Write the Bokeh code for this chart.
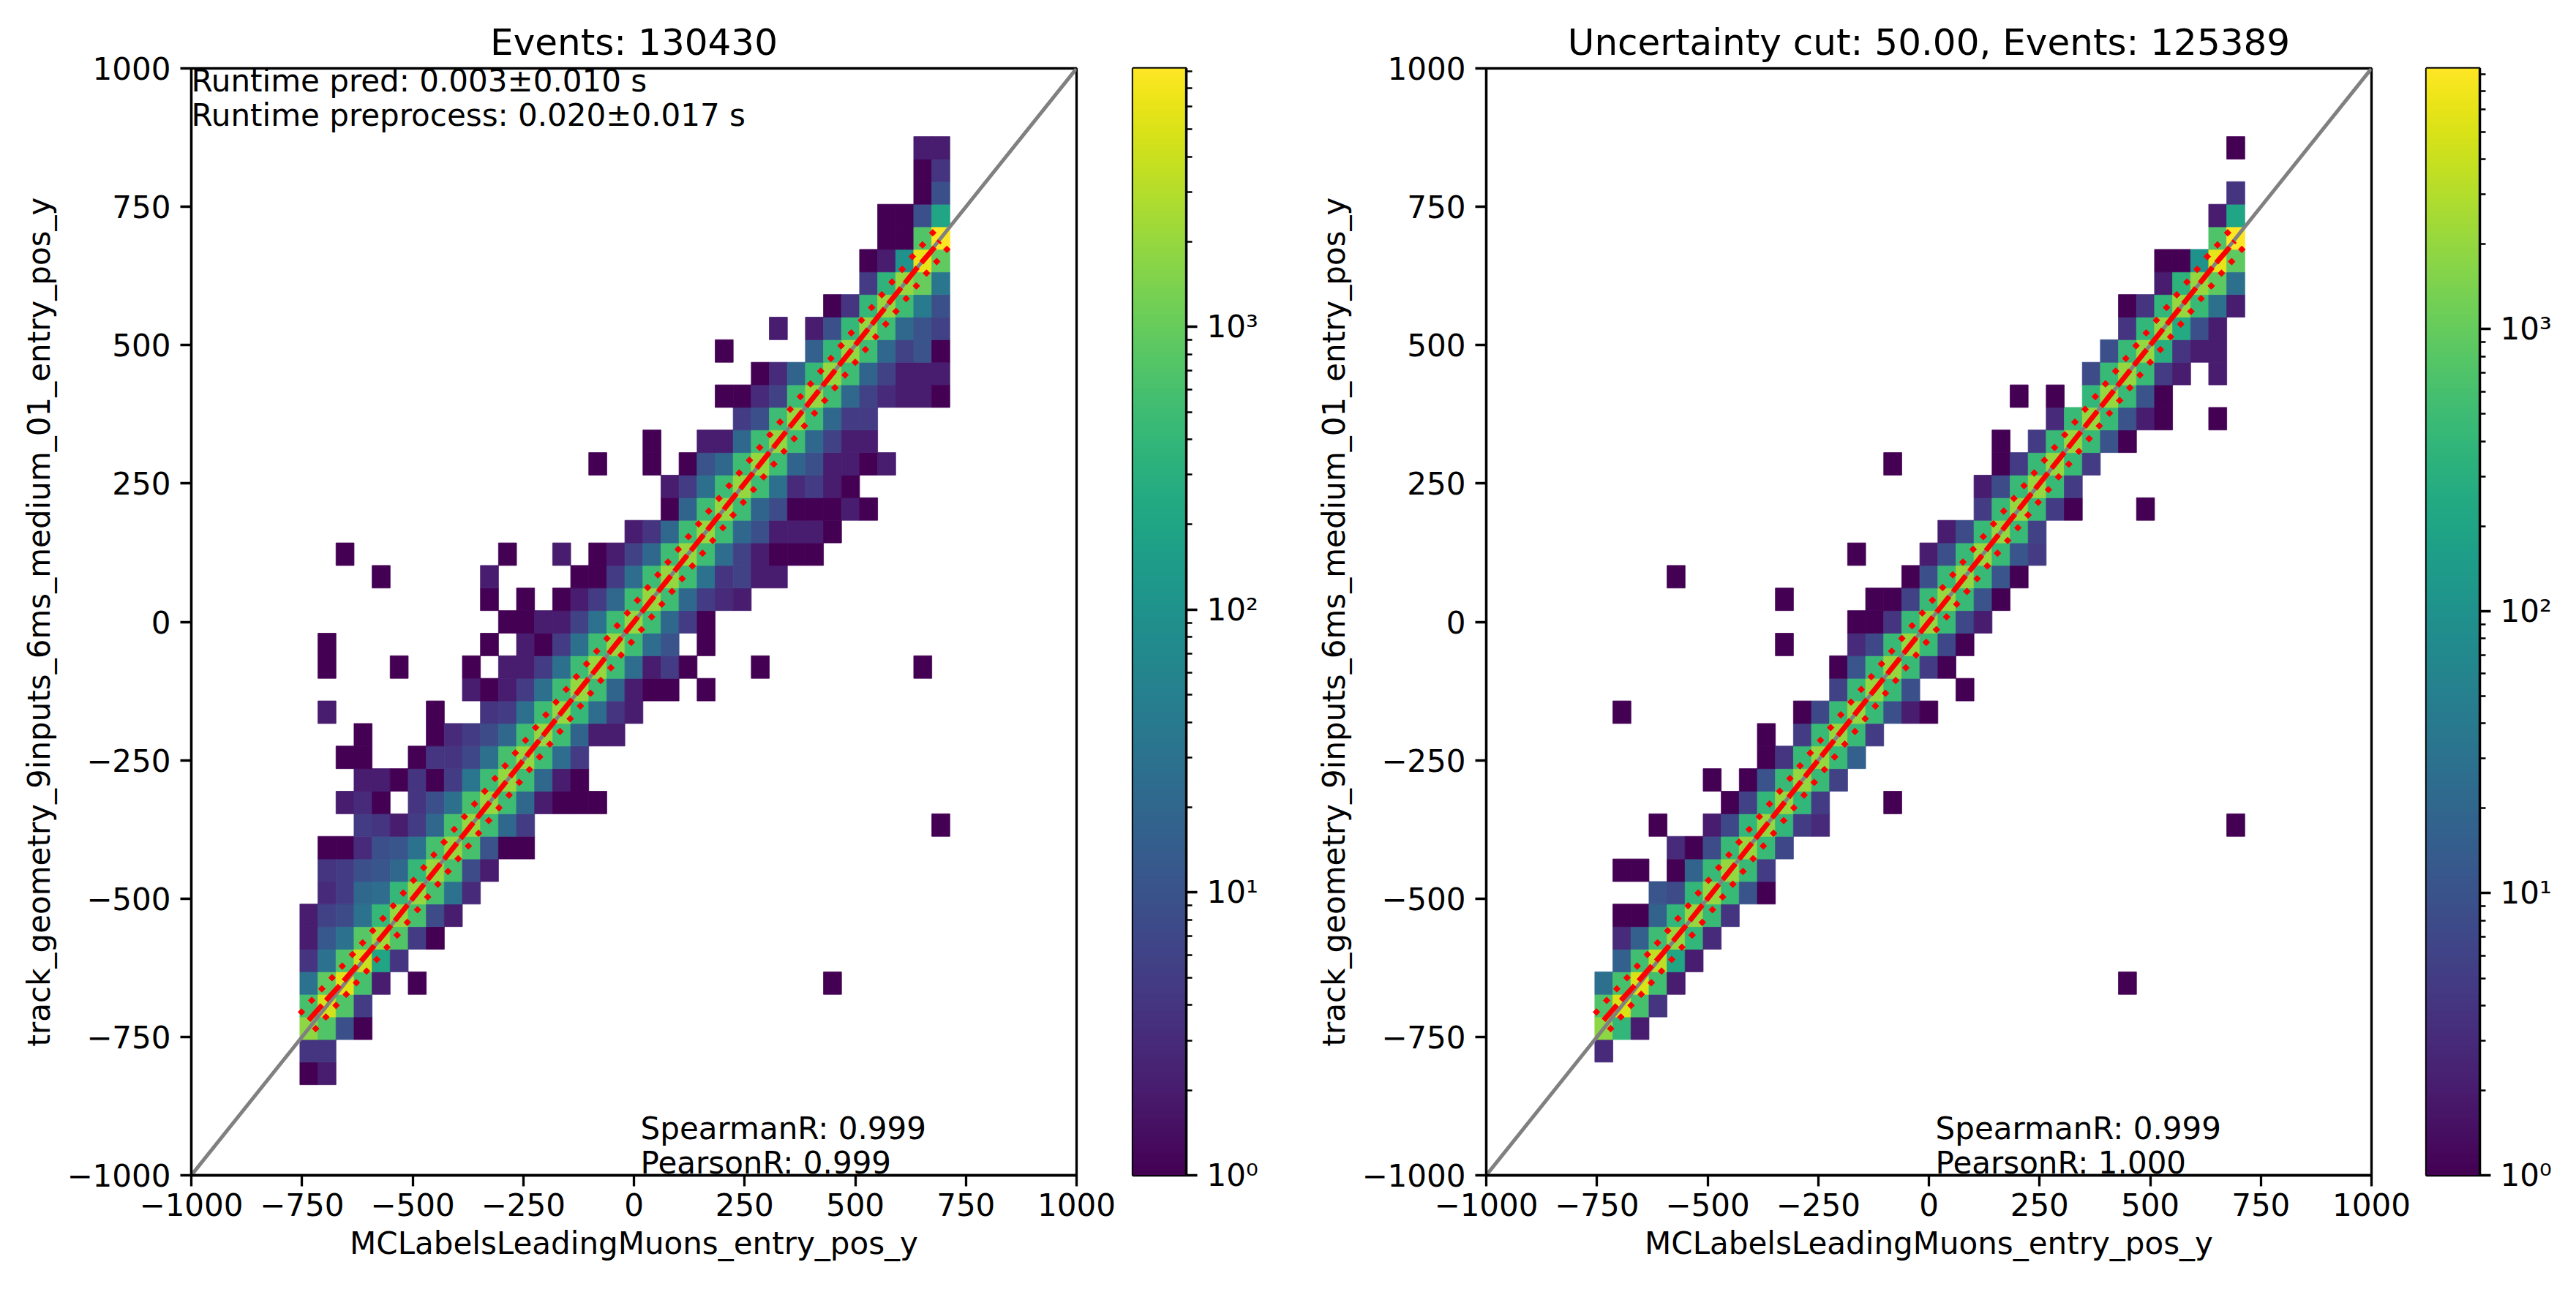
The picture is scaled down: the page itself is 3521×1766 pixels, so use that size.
import numpy as np
from bokeh.plotting import figure
from bokeh.models import ColumnDataSource, Range1d, FixedTicker, Label, LinearColorMapper
from bokeh.transform import log_cmap
from bokeh.palettes import Viridis256
from bokeh.layouts import row
from bokeh.embed import file_html
from bokeh.resources import INLINE

FONT = "DejaVu Sans"

# ---------------- data ----------------
# shared 2D-histogram binning (same edges on both axes)
bin_lo, bin_hi, n_bins = -836.3, 876.9, 42

# (row index, first column index, counts along the row)
left_rows = [
    (0, 2, [1, 2]),
    (1, 2, [4, 4]),
    (2, 2, [1800, 700, 9, 1]),
    (3, 2, [600, 4500, 700, 5]),
    (4, 2, [30, 900, 5500, 600, 2, 0, 1]),
    (5, 2, [4, 30, 700, 4000, 200, 4]),
    (6, 2, [2, 12, 30, 800, 2300, 700, 5, 1]),
    (7, 2, [2, 6, 8, 30, 400, 2000, 600, 8, 2]),
    (8, 3, [3, 5, 20, 25, 400, 2000, 600, 30, 3]),
    (9, 3, [4, 5, 9, 11, 20, 400, 2000, 600, 8, 2]),
    (10, 3, [1, 1, 3, 9, 11, 30, 600, 2000, 600, 10, 1, 1]),
    (11, 5, [5, 4, 2, 5, 20, 600, 2000, 500, 20, 5]),
    (12, 4, [2, 3, 1, 0, 4, 9, 28, 600, 2000, 500, 20, 2, 1, 1, 1]),
    (13, 5, [2, 2, 1, 4, 1, 5, 35, 500, 2000, 500, 20, 2, 1]),
    (14, 4, [1, 1, 0, 0, 1, 4, 4, 7, 28, 600, 2000, 500, 25, 5]),
    (15, 5, [1, 0, 0, 0, 1, 3, 5, 8, 20, 500, 2000, 500, 18, 2, 2]),
    (16, 3, [2, 0, 0, 0, 0, 0, 1, 0, 0, 4, 5, 28, 500, 2000, 400, 25, 4, 2]),
    (17, 11, [2, 1, 2, 5, 28, 500, 2000, 500, 18, 2, 1, 1, 0, 1]),
    (18, 3, [1, 0, 0, 0, 1, 0, 0, 0, 1, 0, 2, 2, 5, 28, 500, 2000, 500, 25, 2, 5, 1, 0, 0, 0, 1]),
    (19, 12, [1, 0, 2, 1, 5, 28, 500, 2000, 500, 25, 10, 0, 1]),
    (20, 13, [1, 1, 2, 2, 6, 30, 500, 2000, 500, 20, 5, 1]),
    (21, 12, [1, 0, 1, 0, 1, 2, 5, 20, 500, 2000, 500, 20, 5, 3, 2]),
    (22, 12, [2, 0, 0, 0, 0, 1, 1, 5, 25, 500, 2000, 500, 30, 4, 6, 2, 2]),
    (23, 13, [1, 0, 0, 2, 0, 1, 2, 6, 20, 500, 2000, 500, 25, 6, 2, 1, 1, 1]),
    (24, 20, [2, 4, 20, 500, 2000, 500, 20, 9, 2, 2, 2, 1]),
    (25, 22, [1, 18, 500, 2000, 500, 18, 8, 1, 1, 1, 2, 1]),
    (26, 22, [2, 5, 28, 500, 2000, 500, 28, 3, 5, 2, 1]),
    (27, 18, [1, 0, 0, 1, 0, 1, 10, 20, 500, 2000, 500, 18, 9, 2, 2, 1, 2]),
    (28, 21, [1, 0, 0, 2, 2, 20, 500, 2000, 500, 20, 6, 2, 2]),
    (29, 26, [5, 9, 500, 2000, 500, 20, 5, 5]),
    (30, 25, [1, 1, 3, 6, 500, 2000, 500, 20, 6, 3, 2, 2, 1]),
    (31, 27, [1, 3, 18, 400, 2000, 500, 18, 6, 2, 2, 2]),
    (32, 25, [1, 0, 0, 0, 0, 16, 400, 2000, 500, 20, 6, 10, 1]),
    (33, 28, [2, 0, 2, 9, 400, 2000, 500, 20, 10, 6]),
    (34, 31, [1, 4, 400, 2000, 500, 40, 9]),
    (35, 33, [5, 350, 2000, 1000, 35]),
    (36, 33, [1, 2, 100, 6000, 900]),
    (37, 34, [1, 1, 700, 8200]),
    (38, 34, [1, 1, 9, 200]),
    (39, 36, [1, 9]),
    (40, 36, [1, 4]),
    (41, 36, [2, 2]),
]
# isolated cells: (row, column, count)
left_outliers = [(4, 31, 1), (11, 37, 1), (18, 36, 1), (19, 3, 1), (22, 6, 1), (23, 4, 1)]

right_rows = [
    (1, 2, [3]),
    (2, 2, [1800, 400, 2]),
    (3, 2, [700, 5000, 600, 4]),
    (4, 2, [28, 600, 5000, 550, 2]),
    (5, 3, [16, 550, 3500, 200, 2]),
    (6, 3, [3, 16, 500, 2000, 400, 3]),
    (7, 3, [1, 1, 18, 400, 2000, 450, 4]),
    (8, 5, [11, 8, 400, 2000, 450, 10, 1]),
    (9, 3, [1, 1, 0, 1, 18, 450, 2000, 450, 5]),
    (10, 6, [3, 1, 8, 450, 2000, 450, 7]),
    (11, 5, [1, 0, 0, 2, 7, 400, 2000, 400, 5, 3]),
    (12, 9, [1, 6, 400, 2000, 400, 5, 0, 0, 0, 1]),
    (13, 8, [1, 0, 1, 10, 450, 2000, 450, 6]),
    (14, 11, [1, 4, 450, 2000, 450, 16]),
    (15, 11, [1, 0, 5, 450, 2000, 450, 5]),
    (16, 13, [1, 7, 450, 2000, 450, 9, 2, 1]),
    (17, 15, [6, 450, 2000, 450, 9, 0, 0, 1]),
    (18, 15, [1, 11, 450, 2000, 450, 5, 1]),
    (19, 12, [1, 0, 0, 0, 3, 7, 450, 2000, 450, 7, 1]),
    (20, 16, [1, 1, 4, 450, 2000, 450, 7, 2]),
    (21, 12, [1, 0, 0, 0, 0, 1, 1, 6, 450, 2000, 450, 10, 1]),
    (22, 19, [1, 9, 450, 2000, 450, 11, 1]),
    (23, 16, [1, 0, 0, 0, 2, 9, 450, 2000, 450, 11, 5]),
    (24, 21, [2, 8, 450, 2000, 450, 6]),
    (25, 23, [5, 450, 2000, 450, 5, 1]),
    (26, 23, [2, 8, 450, 2000, 450, 5]),
    (27, 18, [1, 0, 0, 0, 0, 0, 1, 5, 450, 2000, 450, 5]),
    (28, 24, [1, 0, 5, 450, 2000, 450, 10, 1]),
    (29, 27, [3, 450, 2000, 450, 10, 2, 1]),
    (30, 25, [1, 0, 1, 0, 400, 2000, 450, 10, 1]),
    (31, 29, [8, 450, 2000, 450, 5, 2, 0, 2]),
    (32, 30, [9, 450, 2000, 300, 4, 2, 2]),
    (33, 31, [4, 400, 2000, 250, 9, 2]),
    (34, 31, [1, 4, 400, 2000, 450, 28, 2]),
    (35, 33, [2, 350, 2000, 900, 28]),
    (36, 33, [1, 1, 100, 6000, 900]),
    (37, 36, [700, 8400]),
    (38, 36, [2, 200]),
    (39, 37, [4]),
    (41, 37, [1]),
]
right_outliers = [(4, 31, 1), (11, 37, 1), (16, 3, 1), (22, 6, 1), (25, 32, 1), (29, 36, 1)]

# binned median trend (red) and its spread (red diamonds)
trend_x = [-735, -712, -689, -666, -643, -620, -597, -574, -551, -528, -505, -482, -459,
           -436, -413, -390, -367, -344, -321, -298, -275, -252, -229, -206, -183, -160,
           -137, -114, -91, -68, -45, -22, 1, 24, 47, 70, 93, 116, 139, 162, 185, 208,
           231, 254, 277, 300, 323, 346, 369, 392, 415, 438, 461, 484, 507, 530, 553,
           576, 599, 622, 645, 668, 691]
trend_y = [-720, -699, -678, -658, -637, -616, -595, -573, -551, -528, -505, -482, -459,
           -436, -413, -390, -367, -344, -321, -298, -275, -252, -229, -206, -183, -160,
           -137, -114, -91, -68, -45, -22, 1, 24, 47, 70, 93, 116, 139, 162, 185, 208,
           231, 254, 277, 300, 323, 346, 369, 392, 415, 438, 461, 484, 507, 530, 553,
           576, 599, 622, 645, 666, 688]
spread_x, spread_y = 16, 15

titles = ["Events: 130430", "Uncertainty cut: 50.00, Events: 125389"]
spearman = ["SpearmanR: 0.999", "SpearmanR: 0.999"]
pearson = ["PearsonR: 0.999", "PearsonR: 1.000"]
runtime_lines = ["Runtime pred: 0.003\u00b10.010 s", "Runtime preprocess: 0.020\u00b10.017 s"]
axis_lim = (-1000, 1000)
axis_ticks = [-1000, -750, -500, -250, 0, 250, 500, 750, 1000]
cbar_major = [1, 10, 100, 1000]
cbar_labels = ["10\u2070", "10\u00b9", "10\u00b2", "10\u00b3"]
xlabel = "MCLabelsLeadingMuons_entry_pos_y"
ylabel = "track_geometry_9inputs_6ms_medium_01_entry_pos_y"

# ---------------- layout constants ----------------
FRAME_W, FRAME_H = 1210, 1513
TOP, BOTTOM = 93, 150
TICK_FS, LABEL_FS, TITLE_FS = "42px", "42px", "50px"
SPINE = 3.3

edges = np.linspace(bin_lo, bin_hi, n_bins + 1)


def cell_source(rows, outliers):
    entries = []
    for r, start, counts in rows:
        for j, c in enumerate(counts):
            if c > 0:
                entries.append((r, start + j, c))
    entries += list(outliers)
    d = dict(left=[], right=[], bottom=[], top=[], count=[])
    for r, col, c in entries:
        d["left"].append(edges[col])
        d["right"].append(edges[col + 1])
        d["bottom"].append(edges[r])
        d["top"].append(edges[r + 1])
        d["count"].append(c)
    return ColumnDataSource(d)


def style_axis(ax):
    ax.major_tick_out = 15
    ax.major_tick_in = 0
    ax.minor_tick_out = 0
    ax.minor_tick_in = 0
    ax.major_tick_line_width = SPINE
    ax.major_tick_line_color = "black"
    ax.axis_line_width = SPINE
    ax.axis_line_color = "black"
    ax.major_label_text_font = FONT
    ax.major_label_text_font_size = TICK_FS
    ax.major_label_text_color = "black"
    ax.major_label_standoff = 13
    ax.axis_label_text_font = FONT
    ax.axis_label_text_font_size = LABEL_FS
    ax.axis_label_text_font_style = "normal"
    ax.axis_label_text_color = "black"


def main_fig(rows, outliers, title, sp, pe, border_left, runtime):
    src = cell_source(rows, outliers)
    vmax = max(src.data["count"])
    p = figure(frame_width=FRAME_W, frame_height=FRAME_H,
               min_border_left=border_left, min_border_right=56,
               min_border_top=TOP, min_border_bottom=BOTTOM,
               x_range=Range1d(*axis_lim), y_range=Range1d(*axis_lim),
               toolbar_location=None, output_backend="svg", title=title)
    p.background_fill_color = "white"
    p.border_fill_color = "white"
    p.grid.visible = False
    p.outline_line_color = "black"
    p.outline_line_width = SPINE
    p.outline_line_alpha = 1.0

    cmap = log_cmap("count", Viridis256, low=1, high=vmax)
    p.quad(left="left", right="right", bottom="bottom", top="top", source=src,
           fill_color=cmap, line_color=cmap, line_width=0.8)

    p.line(list(axis_lim), list(axis_lim), line_color="#808080", line_width=5)
    p.line(trend_x, trend_y, line_color="red", line_width=7, line_dash="28 8")
    up_x = [x - spread_x for x in trend_x]
    up_y = [y + spread_y for y in trend_y]
    lo_x = [x + spread_x for x in trend_x]
    lo_y = [y - spread_y for y in trend_y]
    for xs, ys in ((up_x, up_y), (lo_x, lo_y)):
        p.scatter(xs, ys, marker="square", angle=np.pi / 4, size=6.6,
                  fill_color="red", line_color="red", line_width=1)

    for ax in (p.xaxis[0], p.yaxis[0]):
        style_axis(ax)
        ax.ticker = FixedTicker(ticks=axis_ticks)
        ax.major_label_overrides = {t: str(t).replace("-", "\u2212") for t in axis_ticks}
    p.xaxis.axis_label = xlabel
    p.yaxis.axis_label = ylabel
    p.xaxis.major_label_standoff = 9
    p.xaxis.axis_label_standoff = 10
    p.yaxis.axis_label_standoff = 10

    p.title.text_font = FONT
    p.title.text_font_size = TITLE_FS
    p.title.text_font_style = "normal"
    p.title.text_color = "black"
    p.title.align = "center"
    p.title.standoff = 13

    if runtime:
        for i, t in enumerate(runtime):
            p.add_layout(Label(x=axis_lim[0], y=axis_lim[1], text=t, text_baseline="top",
                               text_align="left", text_font=FONT, text_font_size=TICK_FS,
                               text_color="black", y_offset=8 - 47 * i))
    for i, t in enumerate([sp, pe]):
        p.add_layout(Label(x=15, y=axis_lim[0], text=t, text_baseline="middle",
                           text_align="left", text_font=FONT, text_font_size=TICK_FS,
                           text_color="black", y_offset=17 + 47 * (1 - i)))
    return p, vmax


def cbar_fig(vmax, border_left, border_right):
    p = figure(frame_width=73, frame_height=FRAME_H,
               min_border_left=border_left, min_border_right=border_right,
               min_border_top=TOP, min_border_bottom=BOTTOM,
               x_range=Range1d(0, 1), y_range=Range1d(1, vmax), y_axis_type="log",
               y_axis_location="right", toolbar_location=None, output_backend="svg")
    p.grid.visible = False
    p.xaxis.visible = False
    p.border_fill_color = "white"
    p.outline_line_color = "black"
    p.outline_line_width = SPINE
    p.outline_line_alpha = 1.0
    gradient = np.arange(256, dtype=float).reshape(256, 1)
    p.image(image=[gradient], x=0, y=1, dw=1, dh=vmax - 1,
            color_mapper=LinearColorMapper(palette=Viridis256, low=0, high=255))
    minor = []
    for dec in cbar_major:
        for m in range(2, 10):
            if dec * m <= vmax:
                minor.append(dec * m)
    ax = p.yaxis[0]
    style_axis(ax)
    ax.ticker = FixedTicker(ticks=cbar_major, minor_ticks=minor)
    ax.major_label_overrides = dict(zip(cbar_major, cbar_labels))
    ax.minor_tick_out = 8
    ax.minor_tick_line_width = 2.5
    ax.minor_tick_line_color = "black"
    return p


pA, vA = main_fig(left_rows, left_outliers, titles[0], spearman[0], pearson[0], 261, runtime_lines)
cA = cbar_fig(vA, 21, 150)
pB, vB = main_fig(right_rows, right_outliers, titles[1], spearman[1], pearson[1], 260, None)
cB = cbar_fig(vB, 19, 120)

layout = row(pA, cA, pB, cB)
open("out.html", "w").write(file_html(layout, INLINE))
